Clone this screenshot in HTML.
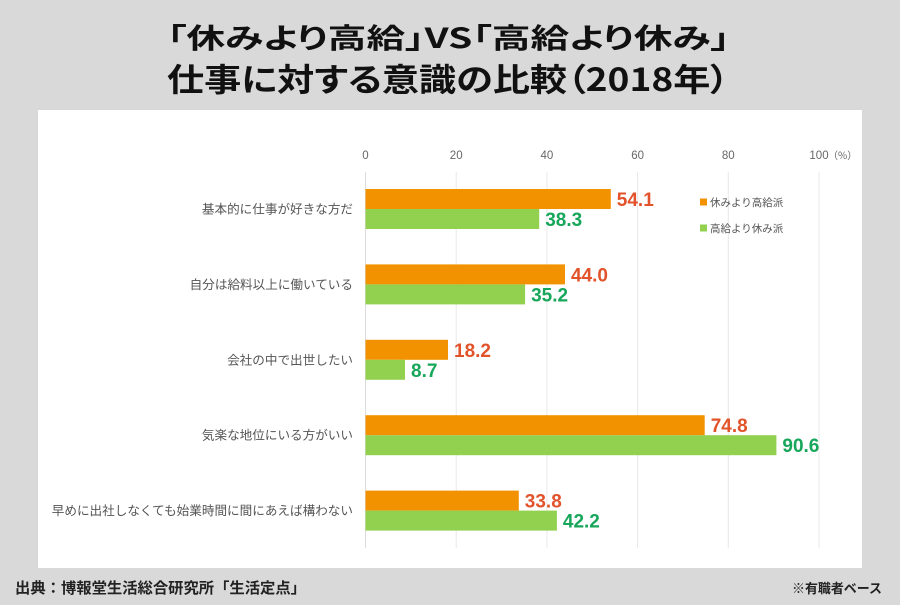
<!DOCTYPE html>
<html><head><meta charset="utf-8"><style>
html,body{margin:0;padding:0;background:#d9d9d9;}
svg{display:block;}
.t{font-family:"Liberation Sans","Noto Sans CJK JP",sans-serif;}
.j{font-family:"Noto Sans CJK JP","Liberation Sans",sans-serif;}
</style></head><body>
<svg width="900" height="605" viewBox="0 0 900 605" xmlns="http://www.w3.org/2000/svg">
<rect x="0" y="0" width="900" height="605" fill="#d9d9d9"/>
<text class="j" x="167" y="48" font-size="28" font-weight="bold" fill="#111" textLength="563" lengthAdjust="spacingAndGlyphs" style="font-feature-settings:'palt'">「休みより高給」VS「高給より休み」</text>
<text class="j" x="167" y="91" font-size="32" font-weight="bold" fill="#111" textLength="562" lengthAdjust="spacingAndGlyphs" style="font-feature-settings:'palt'">仕事に対する意識の比較（2018年）</text>
<rect x="38" y="110" width="824" height="458" fill="#ffffff"/>
<g stroke="#e8e8e8" stroke-width="1">
<line x1="456.2" y1="172" x2="456.2" y2="548"/>
<line x1="546.9" y1="172" x2="546.9" y2="548"/>
<line x1="637.6" y1="172" x2="637.6" y2="548"/>
<line x1="728.3" y1="172" x2="728.3" y2="548"/>
<line x1="819" y1="172" x2="819" y2="548"/>
</g>
<line x1="365.5" y1="172" x2="365.5" y2="548" stroke="#dcdcdc" stroke-width="1"/>
<g class="t" font-size="11.5" fill="#666" text-anchor="middle">
<text x="365.5" y="159">0</text>
<text x="456.2" y="159">20</text>
<text x="546.9" y="159">40</text>
<text x="637.6" y="159">60</text>
<text x="728.3" y="159">80</text>
<text x="819" y="159">100</text>
</g>
<text class="j" x="828" y="159" font-size="10" fill="#666">（%）</text>
<g class="j" font-size="12.6" fill="#555" text-anchor="end">
<text x="353" y="213.5">基本的に仕事が好きな方だ</text>
<text x="353" y="288.9">自分は給料以上に働いている</text>
<text x="353" y="364.3">会社の中で出世したい</text>
<text x="353" y="439.7">気楽な地位にいる方がいい</text>
<text x="353" y="515.1">早めに出社しなくても始業時間に間にあえば構わない</text>
</g>
<g fill="#f39200">
<rect x="365.5" y="189" width="245.3" height="20"/>
<rect x="365.5" y="264.4" width="199.5" height="20"/>
<rect x="365.5" y="339.8" width="82.5" height="20"/>
<rect x="365.5" y="415.2" width="339.2" height="20"/>
<rect x="365.5" y="490.6" width="153.3" height="20"/>
</g>
<g fill="#92d050">
<rect x="365.5" y="209" width="173.7" height="20"/>
<rect x="365.5" y="284.4" width="159.6" height="20"/>
<rect x="365.5" y="359.8" width="39.5" height="20"/>
<rect x="365.5" y="435.2" width="410.9" height="20"/>
<rect x="365.5" y="510.6" width="191.4" height="20"/>
</g>
<g class="t" font-size="19" font-weight="bold" fill="#e2532b">
<text x="616.8" y="206">54.1</text>
<text x="571" y="281.4">44.0</text>
<text x="454" y="356.8">18.2</text>
<text x="710.7" y="432.2">74.8</text>
<text x="524.8" y="507.6">33.8</text>
</g>
<g class="t" font-size="19" font-weight="bold" fill="#17a65a">
<text x="545.2" y="226">38.3</text>
<text x="531.1" y="301.4">35.2</text>
<text x="411" y="376.8">8.7</text>
<text x="782.4" y="452.2">90.6</text>
<text x="562.9" y="527.6">42.2</text>
</g>
<rect x="700" y="198.5" width="7" height="7" fill="#f39200"/>
<text class="j" x="710" y="206" font-size="10.5" fill="#555">休みより高給派</text>
<rect x="700" y="224.5" width="7" height="7" fill="#92d050"/>
<text class="j" x="710" y="232" font-size="10.5" fill="#555">高給より休み派</text>
<text class="j" x="15" y="593" font-size="15" font-weight="bold" fill="#222" textLength="291" lengthAdjust="spacingAndGlyphs">出典：博報堂生活総合研究所「生活定点」</text>
<text class="j" x="792" y="593" font-size="13" font-weight="bold" fill="#222" textLength="90" lengthAdjust="spacingAndGlyphs">※有職者ベース</text>
</svg>
</body></html>
